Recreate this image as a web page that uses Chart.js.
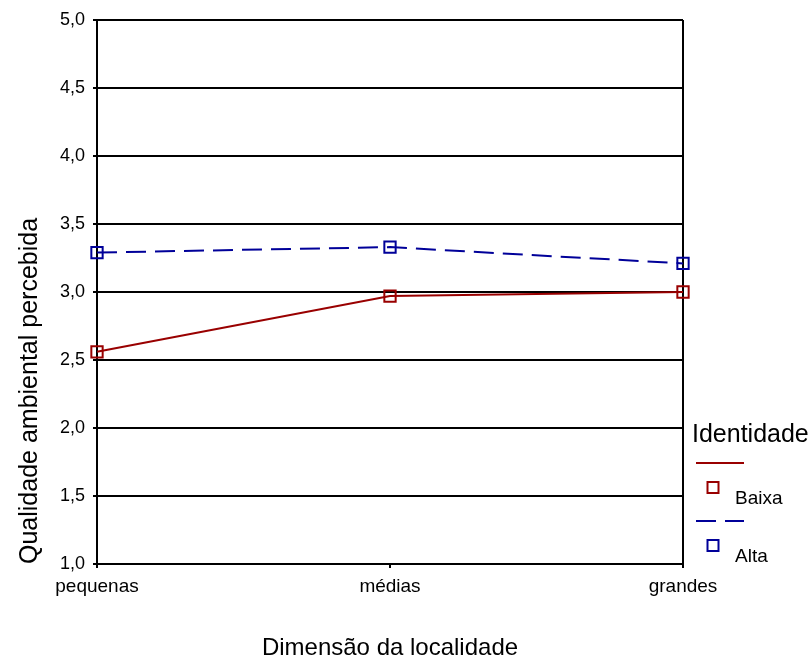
<!DOCTYPE html>
<html>
<head>
<meta charset="utf-8">
<script src="https://cdn.jsdelivr.net/npm/chart.js@4"></script>
<style>
  html, body { margin: 0; padding: 0; background: #fff; }
  #wrap { width: 810px; height: 657px; }
</style>
</head>
<body>
<div id="wrap"><canvas id="grafico"></canvas></div>
<script>
// Dados
const categorias = ['pequenas', 'médias', 'grandes'];
const valoresBaixa = [2.56, 2.97, 3.00];
const valoresAlta = [3.29, 3.33, 3.21];
const tituloLegenda = 'Identidade';

const FONTE = 'Arial, "Liberation Sans", Helvetica, sans-serif';
const VERMELHO = '#990000';
const AZUL = '#000099';

// Legenda desenhada à mão (linha + quadrado + texto, como no original)
const legendaPlugin = {
  id: 'legendaIdentidade',
  afterDraw(chart) {
    const ctx = chart.ctx;
    const x0 = chart.chartArea.right + 9;
    ctx.save();
    ctx.fillStyle = '#000';
    ctx.textBaseline = 'alphabetic';
    ctx.font = '25px ' + FONTE;
    ctx.fillText(tituloLegenda, x0, 442);

    chart.data.datasets.forEach((ds, i) => {
      const y = 463 + i * 58;
      ctx.strokeStyle = ds.borderColor;
      ctx.lineWidth = 2;
      ctx.setLineDash(ds.borderDash || []);
      ctx.beginPath();
      ctx.moveTo(x0 + 4, y);
      ctx.lineTo(x0 + 52, y);
      ctx.stroke();
      ctx.setLineDash([]);
      ctx.strokeRect(x0 + 15.5, y + 19, 11, 11);
      ctx.fillStyle = '#000';
      ctx.font = '19px ' + FONTE;
      ctx.fillText(ds.label, x0 + 43, y + 41);
    });
    ctx.restore();
  }
};

new Chart(document.getElementById('grafico'), {
  type: 'line',
  data: {
    labels: categorias,
    datasets: [
      {
        label: 'Baixa',
        data: valoresBaixa,
        borderColor: VERMELHO,
        backgroundColor: 'transparent',
        borderWidth: 2,
        pointStyle: 'rect',
        pointRadius: 8,
        pointBorderWidth: 2,
        pointBorderColor: VERMELHO,
        pointBackgroundColor: 'transparent',
        tension: 0,
        clip: false
      },
      {
        label: 'Alta',
        data: valoresAlta,
        borderColor: AZUL,
        backgroundColor: 'transparent',
        borderWidth: 2,
        borderDash: [20, 9],
        pointStyle: 'rect',
        pointRadius: 8,
        pointBorderWidth: 2,
        pointBorderColor: AZUL,
        pointBackgroundColor: 'transparent',
        tension: 0,
        clip: false
      }
    ]
  },
  options: {
    responsive: true,
    maintainAspectRatio: false,
    animation: false,
    layout: { padding: { top: 20, right: 127, left: 0, bottom: 0 } },
    plugins: {
      legend: { display: false },
      tooltip: { enabled: false }
    },
    scales: {
      x: {
        offset: false,
        afterFit(scale) { scale.height = 93; },
        grid: {
          color: c => c.index === categorias.length - 1 ? '#000' : 'transparent',
          lineWidth: 2,
          tickColor: '#000',
          tickLength: 4,
          drawOnChartArea: true
        },
        border: { color: '#000', width: 2 },
        ticks: { color: '#000', font: { family: FONTE, size: 19 }, padding: 7, maxRotation: 0 },
        title: {
          display: true,
          text: 'Dimensão da localidade',
          color: '#000',
          font: { family: FONTE, size: 24 },
          padding: { top: -6, bottom: -6 }
        }
      },
      y: {
        min: 1,
        max: 5,
        afterFit(scale) { scale.width = 97; },
        grid: { color: '#000', lineWidth: 2, tickColor: '#000', tickLength: 4 },
        border: { color: '#000', width: 2 },
        ticks: {
          stepSize: 0.5,
          color: '#000',
          font: { family: FONTE, size: 18 },
          padding: 8,
          callback: v => v.toFixed(1).replace('.', ',')
        },
        title: {
          display: true,
          text: 'Qualidade ambiental percebida',
          align: 'start',
          color: '#000',
          font: { family: FONTE, size: 25 },
          padding: { top: 15, bottom: 0 }
        }
      }
    }
  },
  plugins: [legendaPlugin]
});
</script>
</body>
</html>
